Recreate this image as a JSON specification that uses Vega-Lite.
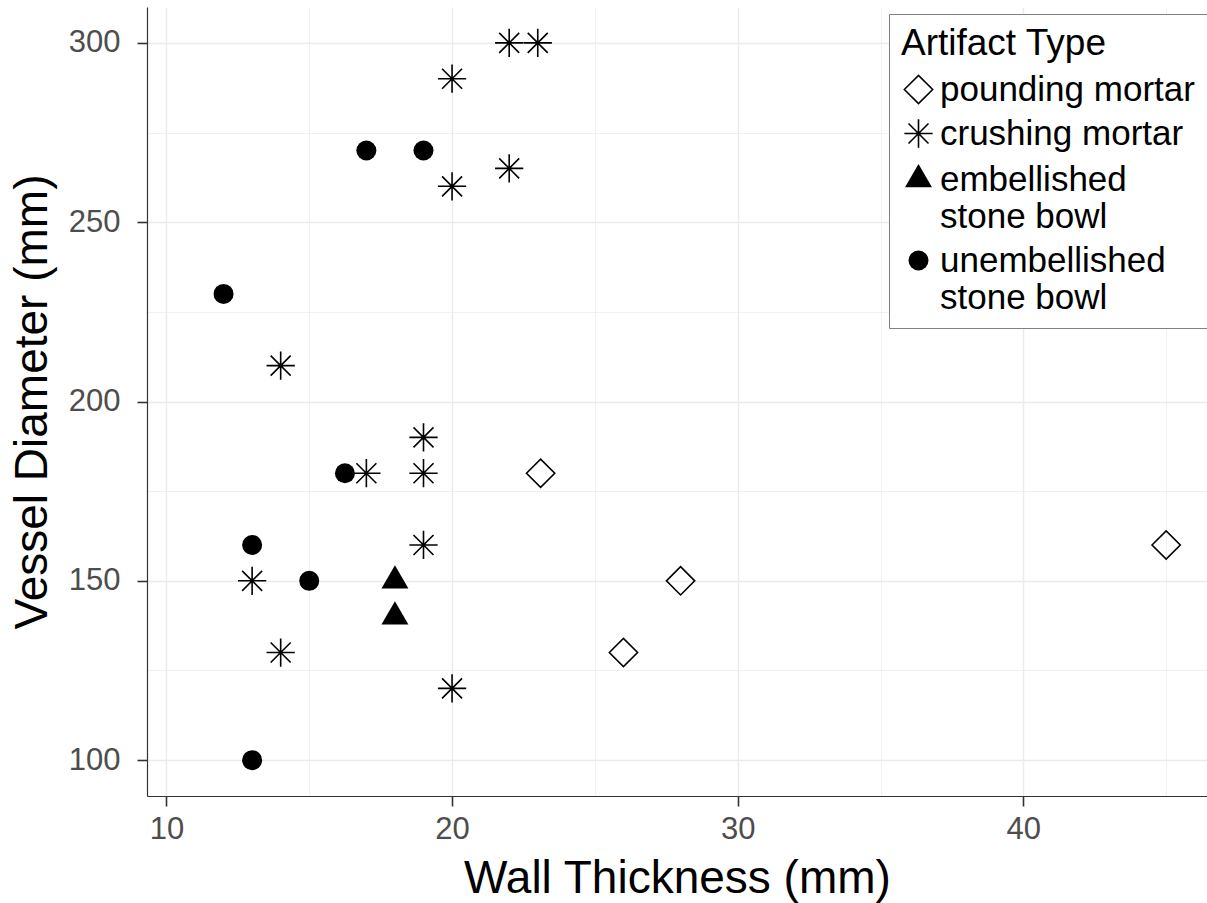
{
  "$schema": "https://vega.github.io/schema/vega-lite/v6.json",
  "width": 1060,
  "height": 789,
  "autosize": {"type": "none"},
  "padding": {"left": 147, "top": 7, "right": 0, "bottom": 107},
  "background": "white",
  "config": {
    "view": {"stroke": null},
    "font": "Liberation Sans",
    "axis": {
      "domainColor": "#333333",
      "domainWidth": 1.2,
      "tickColor": "#333333",
      "tickWidth": 1.6,
      "tickSize": 10,
      "labelFontSize": 31,
      "labelColor": "#4d4d4d",
      "labelPadding": 8,
      "titleFontSize": 46,
      "titleFontWeight": "normal",
      "titleColor": "black",
      "gridColor": "#ebebeb"
    },
    "legend": {
      "symbolSize": 400,
      "symbolStrokeWidth": 1.6,
      "labelFontSize": 35,
      "titleFontSize": 37,
      "titleFontWeight": "normal",
      "titleColor": "black",
      "titleLimit": 0,
      "titlePadding": 9,
      "labelColor": "black",
      "labelLimit": 0,
      "rowPadding": 8,
      "strokeColor": "#808080",
      "fillColor": "white",
      "padding": 12
    }
  },
  "layer": [
    {
      "data": {
        "values": [
          {"wall": 22, "diam": 300, "type": "crushing mortar"},
          {"wall": 23, "diam": 300, "type": "crushing mortar"},
          {"wall": 20, "diam": 290, "type": "crushing mortar"},
          {"wall": 22, "diam": 265, "type": "crushing mortar"},
          {"wall": 20, "diam": 260, "type": "crushing mortar"},
          {"wall": 14, "diam": 210, "type": "crushing mortar"},
          {"wall": 19, "diam": 190, "type": "crushing mortar"},
          {"wall": 17, "diam": 180, "type": "crushing mortar"},
          {"wall": 19, "diam": 180, "type": "crushing mortar"},
          {"wall": 19, "diam": 160, "type": "crushing mortar"},
          {"wall": 13, "diam": 150, "type": "crushing mortar"},
          {"wall": 14, "diam": 130, "type": "crushing mortar"},
          {"wall": 20, "diam": 120, "type": "crushing mortar"},
          {"wall": 17, "diam": 270, "type": "unembellished stone bowl"},
          {"wall": 19, "diam": 270, "type": "unembellished stone bowl"},
          {"wall": 12, "diam": 230, "type": "unembellished stone bowl"},
          {"wall": 16.25, "diam": 180, "type": "unembellished stone bowl"},
          {"wall": 13, "diam": 160, "type": "unembellished stone bowl"},
          {"wall": 15, "diam": 150, "type": "unembellished stone bowl"},
          {"wall": 13, "diam": 100, "type": "unembellished stone bowl"},
          {"wall": 18, "diam": 150, "type": "embellished stone bowl"},
          {"wall": 18, "diam": 140, "type": "embellished stone bowl"},
          {"wall": 23.1, "diam": 180, "type": "pounding mortar"},
          {"wall": 26, "diam": 130, "type": "pounding mortar"},
          {"wall": 28, "diam": 150, "type": "pounding mortar"},
          {"wall": 45, "diam": 160, "type": "pounding mortar"}
        ]
      },
      "mark": {"type": "point", "size": 400, "strokeWidth": 1.6, "opacity": 1},
      "encoding": {
        "x": {
          "field": "wall",
          "type": "quantitative",
          "title": "Wall Thickness (mm)",
          "scale": {"domain": [9.32, 46.43], "nice": false, "zero": false},
          "axis": {
            "values": [10, 15, 20, 25, 30, 35, 40, 45],
            "labelExpr": "datum.value % 10 === 0 ? datum.label : ''",
            "tickOpacity": {"condition": {"test": "datum.value % 10 === 0", "value": 1}, "value": 0},
            "gridWidth": {"condition": {"test": "datum.value % 10 === 0", "value": 1.4}, "value": 0.7},
            "titlePadding": 12
          }
        },
        "y": {
          "field": "diam",
          "type": "quantitative",
          "title": "Vessel Diameter (mm)",
          "scale": {"domain": [90, 310], "nice": false, "zero": false},
          "axis": {
            "values": [100, 125, 150, 175, 200, 225, 250, 275, 300],
            "labelExpr": "datum.value % 50 === 0 ? datum.label : ''",
            "tickOpacity": {"condition": {"test": "datum.value % 50 === 0", "value": 1}, "value": 0},
            "gridWidth": {"condition": {"test": "datum.value % 50 === 0", "value": 1.4}, "value": 0.7},
            "labelPadding": 17,
            "titlePadding": 12
          }
        },
        "shape": {
          "field": "type",
          "type": "nominal",
          "title": "Artifact Type",
          "scale": {
            "domain": ["pounding mortar", "crushing mortar", "embellished stone bowl", "unembellished stone bowl"],
            "range": [
              "M-1.414,0L0,-1.414L1.414,0L0,1.414Z",
              "M-1.414,0L1.414,0M0,-1.414L0,1.414M-1,-1L1,1M-1,1L1,-1",
              "M0,-1.555L1.347,0.778L-1.347,0.778Z",
              "circle"
            ]
          },
          "legend": {
            "orient": "none",
            "legendX": 742,
            "legendY": 7,
            "labelExpr": "datum.label == 'embellished stone bowl' ? ['embellished', 'stone bowl'] : datum.label == 'unembellished stone bowl' ? ['unembellished', 'stone bowl'] : datum.label",
            "encode": {"labels": {"update": {"lineHeight": {"value": 43}}}}
          }
        },
        "fill": {
          "field": "type",
          "type": "nominal",
          "title": "Artifact Type",
          "scale": {
            "domain": ["pounding mortar", "crushing mortar", "embellished stone bowl", "unembellished stone bowl"],
            "range": ["transparent", "transparent", "#000000", "#000000"]
          }
        },
        "stroke": {
          "field": "type",
          "type": "nominal",
          "title": "Artifact Type",
          "scale": {
            "domain": ["pounding mortar", "crushing mortar", "embellished stone bowl", "unembellished stone bowl"],
            "range": ["#000000", "#000000", "transparent", "transparent"]
          }
        }
      }
    },
    {
      "mark": {"type": "rule", "color": "#333333", "strokeWidth": 1.2},
      "encoding": {
        "y": {"datum": 310, "type": "quantitative", "title": "Vessel Diameter (mm)"}
      }
    }
  ]
}
